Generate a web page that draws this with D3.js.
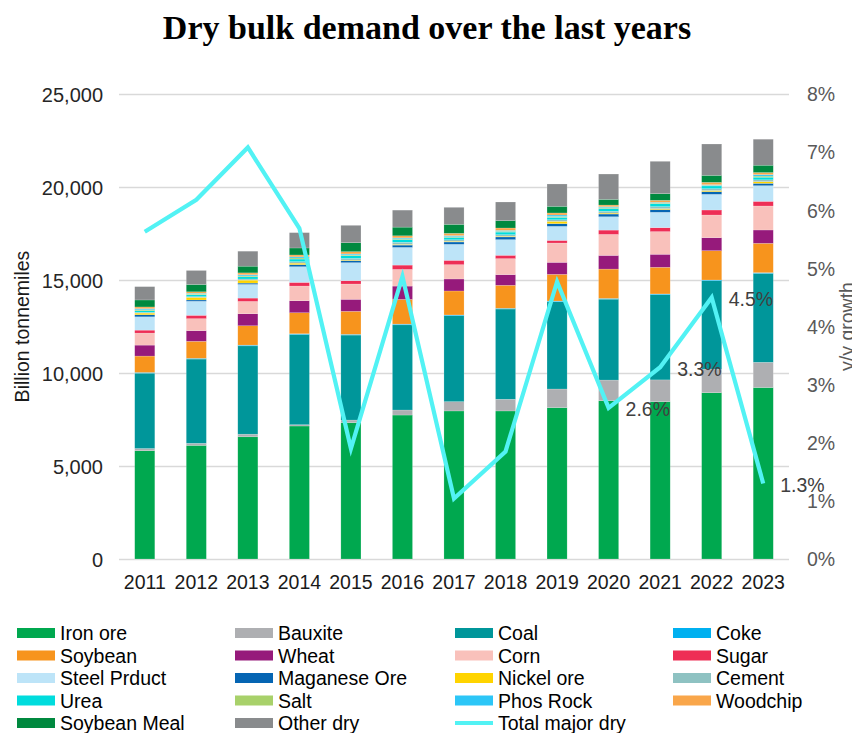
<!DOCTYPE html>
<html>
<head>
<meta charset="utf-8">
<script src="https://cdn.jsdelivr.net/npm/d3@7/dist/d3.min.js"></script>
<style>
  html, body { margin: 0; padding: 0; background: #fff; }
  svg { display: block; }
  text { font-family: "Liberation Sans", Arial, sans-serif; }
</style>
</head>
<body>
<svg id="chart" width="852" height="733"></svg>
<script>
// Seaborne dry bulk trade, billion tonne-miles, by commodity
const years = ["2011","2012","2013","2014","2015","2016","2017","2018","2019","2020","2021","2022","2023"];

const ironOre     = [5820, 6110, 6570, 7150, 7330, 7740, 7960, 7960, 8140, 8510, 8460, 8940, 9220];
const bauxite     = [120, 110, 140, 70, 140, 270, 500, 630, 1000, 1110, 1170, 1270, 1355];
const coal        = [4050, 4530, 4750, 4850, 4570, 4580, 4620, 4850, 4690, 4350, 4580, 4750, 4780];
const coke        = [40, 40, 40, 40, 40, 40, 40, 40, 40, 40, 40, 40, 40];
const soybean     = [880, 914, 1040, 1130, 1236, 1326, 1290, 1236, 1434, 1577, 1434, 1577, 1577];
const wheat       = [590, 573, 645, 645, 645, 717, 645, 573, 645, 735, 699, 699, 717];
const corn        = [645, 645, 663, 790, 824, 896, 770, 860, 1039, 1129, 1218, 1218, 1290];
const sugar       = [160, 180, 180, 197, 180, 233, 233, 180, 143, 233, 215, 269, 251];
const steel       = [716, 753, 735, 844, 968, 950, 860, 842, 753, 717, 824, 842, 842];
const manganese   = [110, 70, 70, 110, 110, 125, 125, 145, 145, 145, 145, 145, 125];
const nickel      = [90, 140, 160, 80, 30, 40, 40, 40, 125, 50, 50, 60, 90];
const cement      = [40, 40, 60, 80, 90, 110, 80, 80, 85, 100, 110, 100, 100];
const urea        = [90, 100, 120, 140, 150, 150, 130, 140, 130, 150, 160, 150, 140];
const salt        = [50, 40, 50, 60, 40, 40, 40, 40, 50, 50, 30, 30, 60];
const phosRock    = [60, 40, 60, 60, 50, 50, 56, 50, 75, 44, 40, 35, 80];
const woodchip    = [90, 80, 100, 100, 120, 110, 120, 130, 110, 90, 110, 125, 110];
const soybeanMeal = [376, 394, 360, 376, 484, 466, 484, 394, 358, 305, 358, 376, 394];
const otherDry    = [716, 753, 806, 824, 932, 914, 914, 1003, 1200, 1362, 1738, 1685, 1398];

// Year-on-year growth of total major dry bulk, %
const growth      = [5.63, 6.18, 7.08, 5.69, 1.90, 4.86, 1.04, 1.85, 4.77, 2.6, 3.3, 4.5, 1.3];
const growthLabelled = [false, false, false, false, false, false, false, false, false, true, true, true, true];

const leftTicks  = [0, 5000, 10000, 15000, 20000, 25000];
const rightTicks = [0, 1, 2, 3, 4, 5, 6, 7, 8];

const series = [
  { name: "Iron ore",      values: ironOre,     color: "#00A84F" },
  { name: "Bauxite",       values: bauxite,     color: "#AEAFB2" },
  { name: "Coal",          values: coal,        color: "#00969A" },
  { name: "Coke",          values: coke,        color: "#00B0F0" },
  { name: "Soybean",       values: soybean,     color: "#F7941D" },
  { name: "Wheat",         values: wheat,       color: "#961A7B" },
  { name: "Corn",          values: corn,        color: "#F9C1BB" },
  { name: "Sugar",         values: sugar,       color: "#EE2E55" },
  { name: "Steel Prduct",  values: steel,       color: "#BDE4F8" },
  { name: "Maganese Ore",  values: manganese,   color: "#0565B3" },
  { name: "Nickel ore",    values: nickel,      color: "#FFD400" },
  { name: "Cement",        values: cement,      color: "#8EC2C2" },
  { name: "Urea",          values: urea,        color: "#00DCDD" },
  { name: "Salt",          values: salt,        color: "#A8D16A" },
  { name: "Phos Rock",     values: phosRock,    color: "#2CC6F7" },
  { name: "Woodchip",      values: woodchip,    color: "#F9A64A" },
  { name: "Soybean Meal",  values: soybeanMeal, color: "#00893F" },
  { name: "Other dry",     values: otherDry,    color: "#898B8D" }
];
const lineColor = "#52F2F4";

// Table for d3.stack
const table = years.map((y, i) => {
  const row = { year: y };
  series.forEach(s => { row[s.name] = s.values[i]; });
  return row;
});

const svg = d3.select("#chart");
const plot = { left: 119, right: 789, top: 94, bottom: 559 };

const x = d3.scaleBand().domain(years).range([plot.left, plot.right]).paddingInner(0.61).paddingOuter(0.305);
const y = d3.scaleLinear().domain([0, 25000]).range([plot.bottom, plot.top]);
const y2 = d3.scaleLinear().domain([0, 8]).range([plot.bottom, plot.top]);

// Title
svg.append("text")
  .attr("x", 427).attr("y", 39)
  .attr("text-anchor", "middle")
  .style("font-family", "'Liberation Serif', 'Times New Roman', serif")
  .style("font-weight", "bold")
  .style("font-size", "34px")
  .attr("fill", "#000")
  .text("Dry bulk demand over the last years");

// Gridlines
svg.append("g")
  .selectAll("line")
  .data(leftTicks)
  .join("line")
  .attr("x1", plot.left).attr("x2", plot.right)
  .attr("y1", d => y(d) + 0.5).attr("y2", d => y(d) + 0.5)
  .attr("stroke", "#D9D9D9").attr("stroke-width", 1.3);

// Stacked bars
const stack = d3.stack().keys(series.map(s => s.name));
const layers = stack(table);
svg.append("g")
  .selectAll("g")
  .data(layers)
  .join("g")
  .attr("fill", (d, i) => series[i].color)
  .selectAll("rect")
  .data(d => d)
  .join("rect")
  .attr("x", d => x(d.data.year))
  .attr("width", x.bandwidth())
  .attr("y", d => y(d[1]))
  .attr("height", d => Math.max(0, y(d[0]) - y(d[1])))
  .attr("stroke", "rgba(255,255,255,0.35)")
  .attr("stroke-width", 0.5);

// Left axis
const axisL = d3.axisLeft(y).tickValues(leftTicks).tickSize(0).tickPadding(0).tickFormat(d3.format(","));
const gL = svg.append("g").attr("transform", `translate(103,0)`).call(axisL);
gL.select(".domain").remove();
gL.selectAll("text").style("font-size", "20px").attr("fill", "#262626").attr("dy", "0.35em")
  .style("font-family", "'Liberation Sans', Arial, sans-serif");

// Right axis
const axisR = d3.axisRight(y2).tickValues(rightTicks).tickSize(0).tickPadding(0).tickFormat(d => d + "%");
const gR = svg.append("g").attr("transform", `translate(807,0)`).call(axisR);
gR.select(".domain").remove();
gR.selectAll("text").style("font-size", "19.5px").attr("fill", "#595959").attr("dy", "0.35em")
  .style("font-family", "'Liberation Sans', Arial, sans-serif");

// Bottom axis
const axisB = d3.axisBottom(x).tickSize(0).tickPadding(0);
const gB = svg.append("g").attr("transform", `translate(0,${plot.bottom + 23})`).call(axisB);
gB.select(".domain").remove();
gB.selectAll("text").style("font-size", "19.5px").attr("fill", "#1a1a1a").attr("dy", "0.35em")
  .style("font-family", "'Liberation Sans', Arial, sans-serif");

// Axis titles
svg.append("text")
  .attr("transform", `translate(29,${(plot.top + plot.bottom) / 2}) rotate(-90)`)
  .attr("text-anchor", "middle")
  .style("font-size", "19.5px").attr("fill", "#1a1a1a")
  .text("Billion tonnemiles");
svg.append("text")
  .attr("transform", `translate(854,${(plot.top + plot.bottom) / 2}) rotate(-90)`)
  .attr("text-anchor", "middle")
  .style("font-size", "19.5px").attr("fill", "#595959")
  .text("y/y growth");

// Growth line
const line = d3.line()
  .x((d, i) => x(years[i]) + x.bandwidth() / 2)
  .y(d => y2(d));
svg.append("path")
  .datum(growth)
  .attr("d", line)
  .attr("fill", "none")
  .attr("stroke", lineColor)
  .attr("stroke-width", 4.2)
  .attr("stroke-linejoin", "miter");

// Value labels on the latest points
svg.append("g")
  .selectAll("text")
  .data(growth.map((v, i) => ({ v, i })).filter(d => growthLabelled[d.i]))
  .join("text")
  .attr("x", d => x(years[d.i]) + x.bandwidth() / 2 + 17)
  .attr("y", d => y2(d.v) + 1.5)
  .attr("dy", "0.35em")
  .style("font-size", "19.5px")
  .attr("fill", "#404040")
  .text(d => d3.format(".1f")(d.v) + "%");

// Legend
const legendItems = series.map(s => ({ name: s.name, color: s.color, type: "rect" }))
  .concat([{ name: "Total major dry", color: lineColor, type: "line" }]);
const colX = [17, 235, 455, 673];
const rowY = [633, 655.5, 678, 700.5, 723];
const lg = svg.append("g")
  .selectAll("g")
  .data(legendItems)
  .join("g")
  .attr("transform", (d, i) => `translate(${colX[i % 4]},${rowY[Math.floor(i / 4)]})`);
lg.filter(d => d.type === "rect").append("rect")
  .attr("x", 0).attr("y", -5).attr("width", 38).attr("height", 10)
  .attr("fill", d => d.color);
lg.filter(d => d.type === "line").append("line")
  .attr("x1", 0).attr("x2", 38).attr("y1", 0).attr("y2", 0)
  .attr("stroke", d => d.color).attr("stroke-width", 4.2);
lg.append("text")
  .attr("x", 43).attr("y", 0).attr("dy", "0.36em")
  .style("font-size", "19.5px")
  .attr("fill", "#000")
  .text(d => d.name);
</script>
</body>
</html>
